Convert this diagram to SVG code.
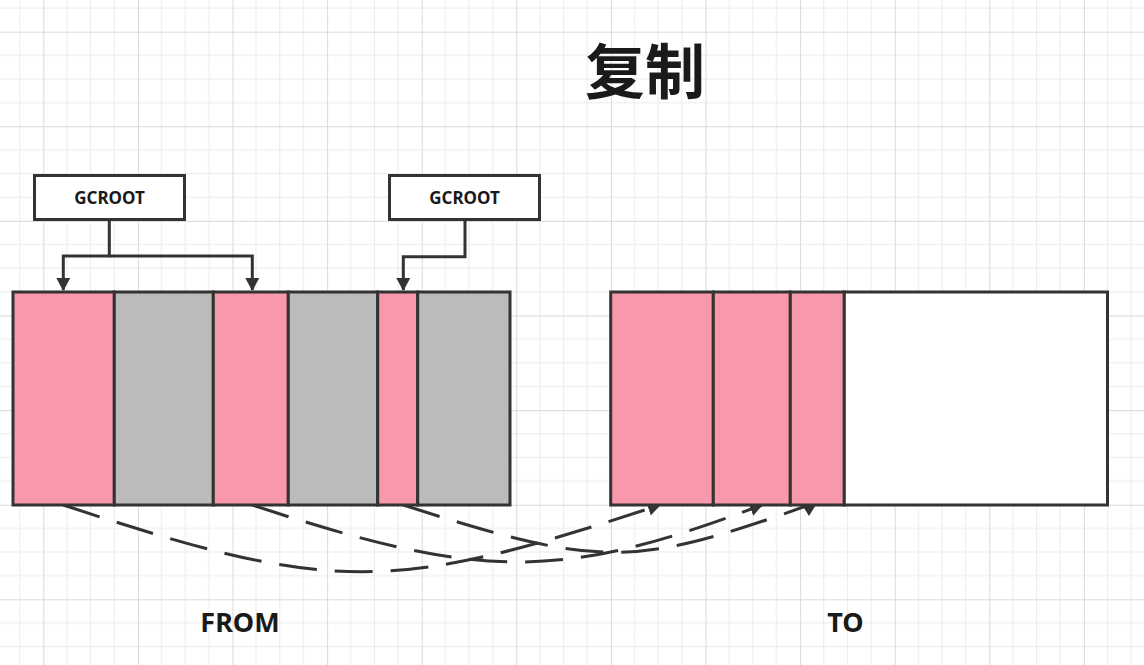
<svg xmlns="http://www.w3.org/2000/svg" width="1144" height="665" viewBox="0 0 1144 665">
<style>
.cell{stroke:#333333;stroke-width:3}
.pink{fill:#F799AA}
.gray{fill:#BBBBBB}
.white{fill:#FFFFFF}
.box{fill:#FFFFFF;stroke:#333333;stroke-width:3}
.conn{fill:none;stroke:#333333;stroke-width:3}
.dash{fill:none;stroke:#333333;stroke-width:3;stroke-dasharray:38 18}
.lbl{font-family:"Noto Sans","Open Sans","Liberation Sans",sans-serif;font-weight:bold;fill:#1a1a1a;text-anchor:middle}
.title{font-family:"Noto Sans CJK SC","Noto Sans CJK JP",sans-serif;font-weight:bold;fill:#1a1a1a;text-anchor:middle}
</style>
<defs>
<pattern id="grid" patternUnits="userSpaceOnUse" x="43.3" y="31.7" width="94.6" height="94.6">
<path d="M23.65,0V94.6M47.3,0V94.6M70.95,0V94.6M0,23.65H94.6M0,47.3H94.6M0,70.95H94.6" stroke="#ebebeb" stroke-width="1" fill="none"/>
<path d="M0.5,0V94.6M0,0.5H94.6" stroke="#d9d9d9" stroke-width="1" fill="none"/>
</pattern>
<marker id="arr" markerUnits="userSpaceOnUse" viewBox="0 0 13 14" markerWidth="13" markerHeight="14" refX="12" refY="7" orient="auto">
<path d="M0,0L13,7L0,14z" fill="#333333"/>
</marker>
<marker id="arrDown" markerUnits="userSpaceOnUse" viewBox="0 0 12 15" markerWidth="12" markerHeight="15" refX="1" refY="7.5" orient="90">
<path d="M0,0L12,7.5L0,15z" fill="#333333"/>
</marker>
</defs>
<rect width="1144" height="665" fill="#ffffff"/>
<rect width="1144" height="665" fill="url(#grid)"/>

<g id="connectors">
<path class="conn" d="M109.3,220V256H63.3V290" marker-end="url(#arr)"/>
<path class="conn" d="M109.3,256H252.3V290" marker-end="url(#arr)"/>
<path class="conn" d="M465,220V256.7H403.3V290" marker-end="url(#arr)"/>
<path class="dash" d="M63.3,505C333,594 390,594 660,505" marker-end="url(#arr)"/>
<path class="dash" d="M252.3,505C483,581 560,581 762,505" marker-end="url(#arr)"/>
<path class="dash" d="M403.3,505C600,568 632,568 809,505" marker-end="url(#arrDown)"/>
</g>

<g id="gcroot1">
<rect class="box" x="34.5" y="175.5" width="150" height="44"/>
<text class="lbl" x="109.5" y="204" font-size="17">GCROOT</text>
</g>
<g id="gcroot2">
<rect class="box" x="389.5" y="175.5" width="150" height="44"/>
<text class="lbl" x="464.5" y="204" font-size="17">GCROOT</text>
</g>

<g id="from-space">
<rect class="cell pink" x="13" y="292" width="101.3" height="213"/>
<rect class="cell gray" x="114.3" y="292" width="99" height="213"/>
<rect class="cell pink" x="213.3" y="292" width="75" height="213"/>
<rect class="cell gray" x="288.3" y="292" width="89.4" height="213"/>
<rect class="cell pink" x="377.7" y="292" width="40" height="213"/>
<rect class="cell gray" x="417.7" y="292" width="92.3" height="213"/>
</g>

<g id="to-space">
<rect class="cell pink" x="610.7" y="292" width="102.6" height="213"/>
<rect class="cell pink" x="713.3" y="292" width="77" height="213"/>
<rect class="cell pink" x="790.3" y="292" width="54" height="213"/>
<rect class="cell white" x="844.3" y="292" width="263.2" height="213"/>
</g>

<g id="title">
<text class="title" x="645" y="94" font-size="60">复制</text>
</g>
<g id="label-from">
<text class="lbl" x="240" y="632" font-size="27">FROM</text>
</g>
<g id="label-to">
<text class="lbl" x="845.5" y="632" font-size="27">TO</text>
</g>
</svg>
